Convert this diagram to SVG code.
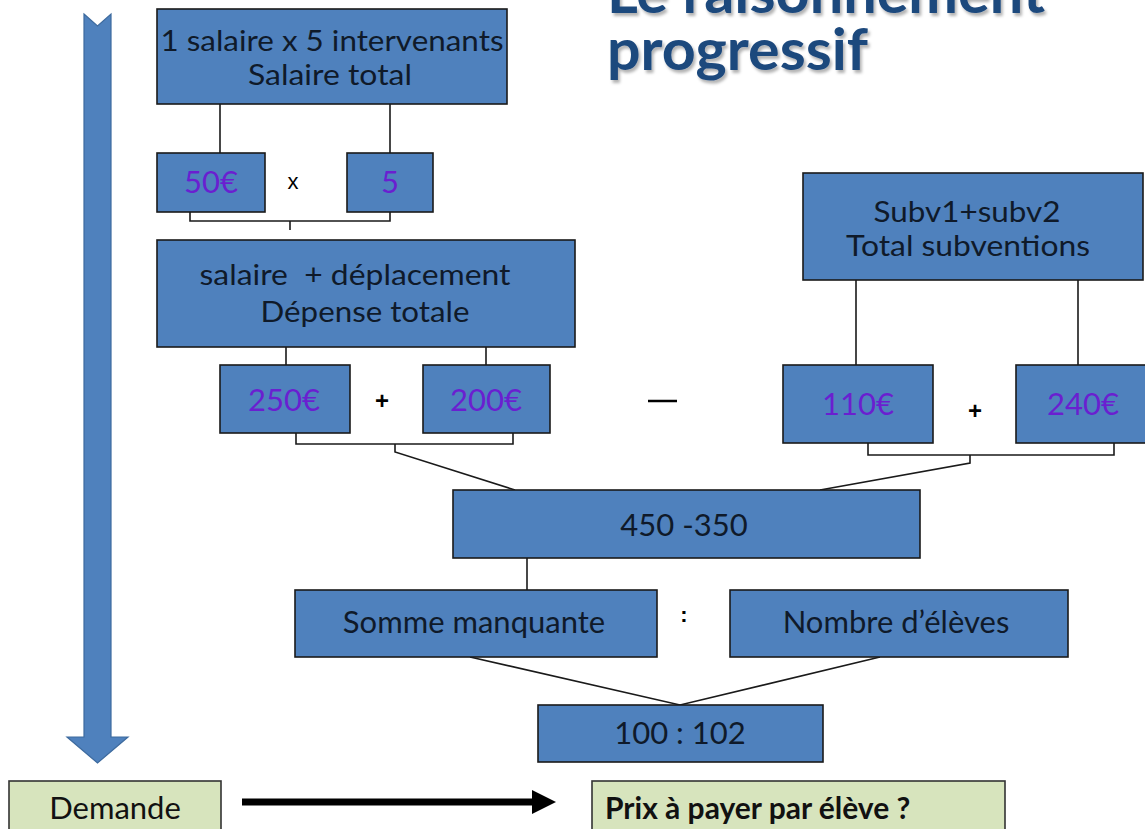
<svg xmlns="http://www.w3.org/2000/svg" width="1145" height="829" viewBox="0 0 1145 829">
<defs>
<style>
.box{fill:#4F81BD;stroke:#1a1a1a;stroke-width:1.6}
.gbox{fill:#D7E4BD;stroke:#333;stroke-width:1.6}
.t{font-family:Lato,"Open Sans","Liberation Sans",sans-serif;font-size:31px;fill:#0f1a2a;text-anchor:middle}
.t2{font-family:Lato,"Open Sans","Liberation Sans",sans-serif;font-size:28px;fill:#0f1a2a;text-anchor:middle}
.v{font-family:Lato,"Open Sans","Liberation Sans",sans-serif;font-size:31px;fill:#6a1fd0;text-anchor:middle}
.op{font-family:"Liberation Sans",sans-serif;font-size:24px;font-weight:bold;fill:#000;text-anchor:middle}
.c{fill:none;stroke:#1a1a1a;stroke-width:1.6}
.title{font-family:Lato,"Open Sans","Liberation Sans",sans-serif;font-size:58px;font-weight:bold;fill:#1F497D}
</style>
<filter id="sh" x="-5%" y="-5%" width="110%" height="120%">
<feDropShadow dx="2" dy="3" stdDeviation="1.5" flood-color="#000" flood-opacity="0.3"/>
</filter>
</defs>
<rect width="1145" height="829" fill="#fff"/>

<g id="title" filter="url(#sh)">
<text class="title" x="607" y="13" textLength="438" lengthAdjust="spacingAndGlyphs">Le raisonnement</text>
<text class="title" x="607" y="70" textLength="261" lengthAdjust="spacingAndGlyphs">progressif</text>
</g>

<g id="bigArrow">
<path d="M84,14 L97.5,26 L111,14 L111,737 L128,737 L97.5,763 L67,737 L84,737 Z" fill="#4F81BD" stroke="#3d6a9e" stroke-width="1.2"/>
</g>

<g id="connectors">
<path class="c" d="M220,104 V153 M390,104 V153"/>
<path class="c" d="M190,212 V221 H390 V212 M290,221 V230"/>
<path class="c" d="M286,347 V365 M486,347 V365"/>
<path class="c" d="M296,433 V444 H513 V433 M395,444 V452 L515,490"/>
<path class="c" d="M856,280 V365 M1078,280 V365"/>
<path class="c" d="M868,443 V455 H1114 V443 M970,455 V463 L820,490"/>
<path class="c" d="M527,558 V590"/>
<path class="c" d="M470,657 L680,705 L880,657"/>
<g id="demandeArrow">
<line x1="242" y1="802" x2="534" y2="802" stroke="#000" stroke-width="7"/>
<polygon points="532,790 556,802 532,814" fill="#000"/>
</g>
</g>

<g id="n_salaireTotal">
<rect class="box" x="157" y="9" width="350" height="95"/>
<text class="t2" x="332" y="51" textLength="343" lengthAdjust="spacingAndGlyphs">1 salaire x 5 intervenants</text>
<text class="t2" x="330" y="85" textLength="164" lengthAdjust="spacingAndGlyphs">Salaire total</text>
</g>
<g id="n_50">
<rect class="box" x="157" y="153" width="108" height="59"/>
<text class="v" x="211" y="193">50€</text>
</g>
<text class="op" x="293" y="189" style="font-weight:normal;font-size:22px">x</text>
<g id="n_5">
<rect class="box" x="347" y="153" width="86" height="59"/>
<text class="v" x="390" y="193">5</text>
</g>

<g id="n_depense">
<rect class="box" x="157" y="240" width="418" height="107"/>
<text class="t2" x="355" y="285" xml:space="preserve" textLength="311" lengthAdjust="spacingAndGlyphs">salaire  + déplacement</text>
<text class="t2" x="365" y="322" textLength="209" lengthAdjust="spacingAndGlyphs">Dépense totale</text>
</g>
<g id="n_250">
<rect class="box" x="220" y="365" width="130" height="68"/>
<text class="v" x="284" y="411">250€</text>
</g>
<text class="op" x="382" y="409">+</text>
<g id="n_200">
<rect class="box" x="423" y="365" width="127" height="68"/>
<text class="v" x="486" y="411">200€</text>
</g>
<line x1="648" y1="401" x2="677" y2="401" stroke="#000" stroke-width="2.5"/>

<g id="n_subv">
<rect class="box" x="803" y="173" width="340" height="107"/>
<text class="t2" x="967" y="222" textLength="187" lengthAdjust="spacingAndGlyphs">Subv1+subv2</text>
<text class="t2" x="968" y="256" textLength="244" lengthAdjust="spacingAndGlyphs">Total subventions</text>
</g>
<g id="n_110">
<rect class="box" x="783" y="365" width="150" height="78"/>
<text class="v" x="858" y="415">110€</text>
</g>
<text class="op" x="975" y="419">+</text>
<g id="n_240">
<rect class="box" x="1016" y="365" width="135" height="78"/>
<text class="v" x="1083" y="415">240€</text>
</g>

<g id="n_450">
<rect class="box" x="453" y="490" width="467" height="68"/>
<text class="t" x="684" y="536">450 -350</text>
</g>
<g id="n_somme">
<rect class="box" x="295" y="590" width="362" height="67"/>
<text class="t" x="474" y="633">Somme manquante</text>
</g>
<text class="op" x="684" y="622" style="font-size:22px">:</text>
<g id="n_nombre">
<rect class="box" x="730" y="590" width="338" height="67"/>
<text class="t" x="896" y="633">Nombre d’élèves</text>
</g>
<g id="n_100">
<rect class="box" x="538" y="705" width="285" height="57"/>
<text class="t" x="680" y="744">100 : 102</text>
</g>

<g id="n_demande">
<rect class="gbox" x="9" y="781" width="212" height="60"/>
<text class="t" x="115" y="819" style="fill:#111">Demande</text>
</g>
<g id="n_prix">
<rect class="gbox" x="592" y="781" width="413" height="60"/>
<text class="t" x="605" y="819" style="text-anchor:start;font-weight:bold;fill:#111;font-size:30px">Prix à payer par élève ?</text>
</g>
</svg>
